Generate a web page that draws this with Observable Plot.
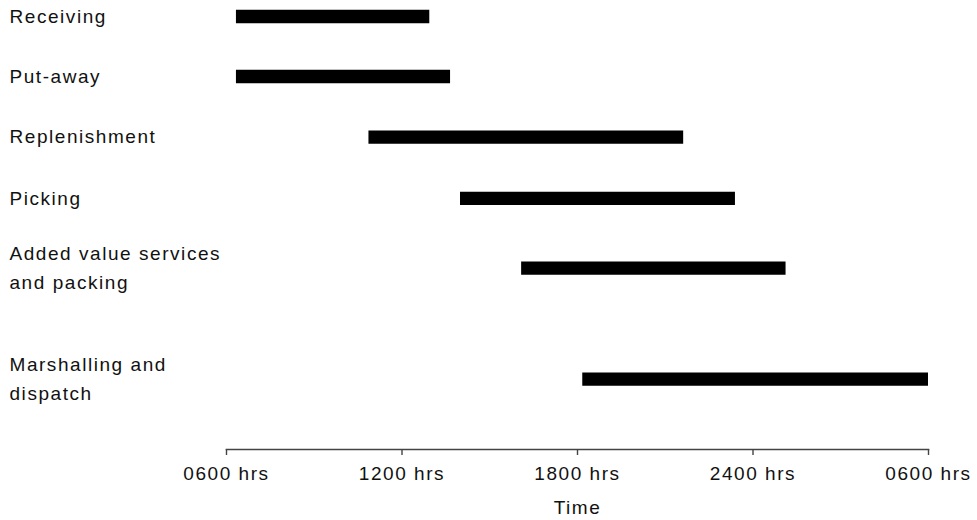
<!DOCTYPE html>
<html>
<head>
<meta charset="utf-8">
<script src="https://cdn.jsdelivr.net/npm/d3@7"></script>
<script src="https://cdn.jsdelivr.net/npm/@observablehq/plot@0.6"></script>
<style>
  html, body { margin: 0; padding: 0; background: #fff; }
  #chart { width: 977px; height: 520px; }
</style>
</head>
<body>
<div id="chart"></div>
<script>
// ---- Data (hours from 0600 on day 1; 30 = 0600 next day) ----
const activities = [
  "Receiving",
  "Put-away",
  "Replenishment",
  "Picking",
  "Added value services\nand packing",
  "Marshalling and\ndispatch"
];
const startHour = [6.34, 6.34, 10.87, 14.0, 16.09, 18.18];
const endHour   = [12.95, 13.66, 21.63, 23.4, 25.13, 30.0];
const tickValues = [6, 12, 18, 24, 30];
const tickLabels = ["0600 hrs", "1200 hrs", "1800 hrs", "2400 hrs", "0600 hrs"];
const axisTitle = "Time";

// ---- Layout (vertical slot of each row, in row-steps) ----
const rowSlot = [0, 1, 2.011, 3.033, 4.195, 6.045];
const axisSlot = 7.217;

const tasks = activities.map((label, i) => ({
  label, start: startHour[i], end: endHour[i], row: rowSlot[i]
}));

const chart = Plot.plot({
  width: 977,
  height: 520,
  marginLeft: 226,
  marginRight: 49,
  marginTop: 16,
  marginBottom: 71,
  style: {
    fontFamily: "'Liberation Sans', Arial, sans-serif",
    fontSize: "19px",
    letterSpacing: "1.55px",
    color: "#111",
    background: "#fff"
  },
  x: { domain: [6, 30] },
  y: { domain: [0, axisSlot], reverse: true, axis: null },
  marks: [
    Plot.frame({ anchor: "bottom", stroke: "#444", strokeWidth: 1.6 }),
    Plot.axisX({
      ticks: tickValues,
      tickFormat: (d) => tickLabels[tickValues.indexOf(d)],
      tickSize: 6,
      tickPadding: 11,
      stroke: "#444",
      strokeWidth: 1.4,
      label: axisTitle,
      labelAnchor: "center",
      labelArrow: "none",
      labelOffset: 64,
      fontSize: 19
    }),
    Plot.ruleY(tasks, {
      y: "row", x1: "start", x2: "end",
      stroke: "#000", strokeWidth: 13.3
    }),
    Plot.text(tasks, {
      y: "row", text: "label",
      frameAnchor: "left", textAnchor: "start", dx: -217, dy: -3,
      lineHeight: 1.5, fontSize: 19, fill: "#111"
    })
  ]
});
document.getElementById("chart").appendChild(chart);
</script>
</body>
</html>
